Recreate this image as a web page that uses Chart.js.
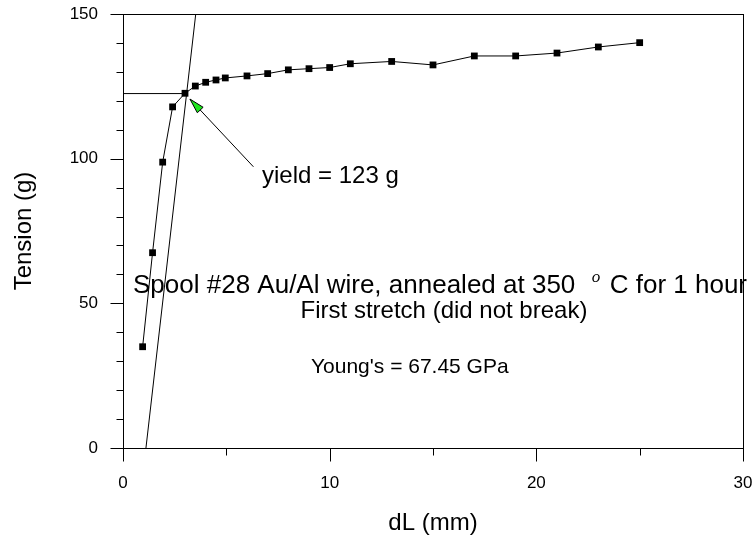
<!DOCTYPE html>
<html>
<head>
<meta charset="utf-8">
<script src="https://cdn.jsdelivr.net/npm/chart.js@4.4.1/dist/chart.umd.min.js"></script>
<style>
  html, body { margin: 0; padding: 0; background: #fff; }
  #wrap { width: 756px; height: 541px; }
</style>
</head>
<body>
<div id="wrap"><canvas id="tension-chart" width="756" height="541"></canvas></div>
<script>
// Measured data (dL in mm, tension in g)
const dL = [0.95, 1.43, 1.92, 2.4, 3.0, 3.5, 4.0, 4.5, 4.95, 6, 7, 8, 9, 10, 11, 13, 15, 17, 19, 21, 23, 25];
const tension = [35, 67.5, 98.8, 117.9, 122.6, 125.1, 126.4, 127.2, 127.9, 128.6, 129.4, 130.7, 131.1, 131.5, 132.8, 133.6, 132.4, 135.5, 135.5, 136.5, 138.6, 140.1];

// Young's modulus fit line and yield marker
const youngX = [1.11, 3.52];
const youngY = [0, 150];
const yieldX = [0, 3.0];
const yieldY = [122.5, 122.5];
const arrowX = [6.31, 3.24];
const arrowY = [97.2, 120.6];

// Axes
const xMajor = [0, 10, 20, 30];
const xMinor = [5, 15, 25];
const yMajor = [0, 50, 100, 150];
const yMinor = [10, 20, 30, 40, 60, 70, 80, 90, 110, 120, 130, 140];

const toPoints = (xs, ys) => xs.map((x, i) => ({ x: x, y: ys[i] }));

const sans = "'Liberation Sans', Arial, sans-serif";

// ticks, frame, arrow and notes
const extras = {
  id: 'extras',
  afterDraw(chart) {
    const ctx = chart.ctx;
    const xs = chart.scales.x;
    const ys = chart.scales.y;
    const a = chart.chartArea;
    ctx.save();
    ctx.strokeStyle = '#000';
    ctx.lineWidth = 1;

    // frame
    ctx.strokeRect(Math.round(a.left) + 0.5, Math.round(a.top) + 0.5,
      Math.round(a.right - a.left), Math.round(a.bottom - a.top));

    // tick marks
    ctx.beginPath();
    const bottom = Math.round(a.bottom) + 0.5;
    const left = Math.round(a.left) + 0.5;
    xMajor.forEach(v => { const p = Math.round(xs.getPixelForValue(v)) + 0.5; ctx.moveTo(p, bottom); ctx.lineTo(p, bottom + 13); });
    xMinor.forEach(v => { const p = Math.round(xs.getPixelForValue(v)) + 0.5; ctx.moveTo(p, bottom); ctx.lineTo(p, bottom + 7); });
    yMajor.forEach(v => { const p = Math.round(ys.getPixelForValue(v)) + 0.5; ctx.moveTo(left, p); ctx.lineTo(left - 13, p); });
    yMinor.forEach(v => { const p = Math.round(ys.getPixelForValue(v)) + 0.5; ctx.moveTo(left, p); ctx.lineTo(left - 7, p); });
    ctx.stroke();

    // green arrowhead pointing at the yield point
    const tx = xs.getPixelForValue(arrowX[1]), ty = ys.getPixelForValue(arrowY[1]);
    const fx = xs.getPixelForValue(arrowX[0]), fy = ys.getPixelForValue(arrowY[0]);
    const ang = Math.atan2(fy - ty, fx - tx);
    const len = 15, half = 4;
    const bx = tx + Math.cos(ang) * len, by = ty + Math.sin(ang) * len;
    ctx.beginPath();
    ctx.moveTo(tx, ty);
    ctx.lineTo(bx - Math.sin(ang) * half, by + Math.cos(ang) * half);
    ctx.lineTo(bx + Math.sin(ang) * half, by - Math.cos(ang) * half);
    ctx.closePath();
    ctx.fillStyle = '#1ee61e';
    ctx.fill();
    ctx.stroke();

    // notes
    ctx.fillStyle = '#000';
    ctx.textBaseline = 'middle';
    ctx.textAlign = 'left';
    ctx.font = '24px ' + sans;
    ctx.fillText('yield = 123 g', 262, 176);

    ctx.font = '26px ' + sans;
    const line1 = 'Spool #28 Au/Al wire, annealed at 350';
    ctx.fillText(line1, 133, 286);
    const w1 = ctx.measureText(line1).width;
    ctx.textAlign = 'right';
    ctx.fillText('C for 1 hour', 747, 286);
    const w3 = ctx.measureText('C for 1 hour').width;
    const gapL = 133 + w1, gapR = 747 - w3;
    ctx.font = 'italic 17px "Liberation Serif", serif';
    ctx.textAlign = 'center';
    ctx.fillText('o', gapL + (gapR - gapL) * 0.6, 278);

    ctx.font = '24px ' + sans;
    ctx.fillText('First stretch (did not break)', 444, 311);
    ctx.textAlign = 'left';
    ctx.font = '21px ' + sans;
    ctx.fillText("Young's = 67.45 GPa", 311, 367);
    ctx.restore();
  }
};

// stop tick label padding from shrinking the plot area
const noScalePadding = s => {
  s.paddingTop = 0;
  s.paddingBottom = 0;
  s.paddingLeft = 0;
  s.paddingRight = 0;
};

const tensionCanvas = document.getElementById('tension-chart');

let tensionChart = new Chart(tensionCanvas, {
  type: 'scatter',
  data: {
    datasets: [{
      data: toPoints(dL, tension),
      showLine: true,
      borderColor: '#000',
      borderWidth: 1,
      backgroundColor: '#000',
      pointStyle: 'rect',
      pointRadius: 4.8,
      pointBorderWidth: 0
    }, {
      data: toPoints(youngX, youngY),
      showLine: true,
      borderColor: '#000',
      borderWidth: 1,
      pointRadius: 0
    }, {
      data: toPoints(yieldX, yieldY),
      showLine: true,
      borderColor: '#000',
      borderWidth: 1,
      pointRadius: 0
    }, {
      data: toPoints(arrowX, arrowY),
      showLine: true,
      borderColor: '#000',
      borderWidth: 1,
      pointRadius: 0
    }]
  },
  options: {
    responsive: false,
    animation: false,
    layout: { autoPadding: false, padding: { top: 14, right: 13, left: 0, bottom: 0 } },
    scales: {
      x: {
        type: 'linear',
        min: 0,
        max: 30,
        grid: { display: false, drawTicks: false },
        border: { display: false },
        ticks: { stepSize: 10, padding: 25, color: '#000', maxRotation: 0, font: { family: sans, size: 17, lineHeight: 1.2 } },
        title: { display: true, text: 'dL (mm)', color: '#000', padding: { top: 0, bottom: 3 }, font: { family: sans, size: 24, lineHeight: 1.2 } },
        afterFit: s => { noScalePadding(s); s.height = 93; }
      },
      y: {
        type: 'linear',
        min: 0,
        max: 150,
        grid: { display: false, drawTicks: false },
        border: { display: false },
        ticks: { stepSize: 50, padding: 25, color: '#000', font: { family: sans, size: 17, lineHeight: 1.2 } },
        title: { display: true, text: 'Tension (g)', color: '#000', padding: { top: 10, bottom: 0 }, font: { family: sans, size: 24, lineHeight: 1.2 } },
        afterFit: s => { noScalePadding(s); s.width = 123; }
      }
    },
    plugins: {
      legend: { display: false },
      tooltip: { enabled: false }
    }
  },
  plugins: [extras]
});
</script>
</body>
</html>
